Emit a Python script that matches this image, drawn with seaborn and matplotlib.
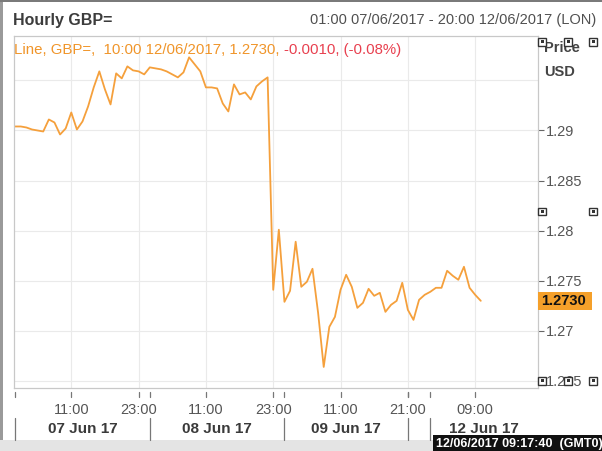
import numpy as np
import pandas as pd
import matplotlib
matplotlib.use("Agg")
import matplotlib.pyplot as plt
from matplotlib.patches import Rectangle
import seaborn as sns

# ---- data (hourly GBP= close, one value per bar, 01:00 07/06/2017 -> 10:00 12/06/2017)
gbp = [1.2904, 1.2904, 1.2903, 1.2901, 1.2900, 1.2899, 1.2911, 1.2908, 1.2896, 1.2902,
       1.2918, 1.2901, 1.2909, 1.2924, 1.2943, 1.2959, 1.2941, 1.2926, 1.2957, 1.2952,
       1.2964, 1.2960, 1.2959, 1.2956, 1.2963, 1.2962, 1.2961, 1.2959, 1.2956, 1.2953,
       1.2958, 1.2973, 1.2966, 1.2959, 1.2943, 1.2943, 1.2942, 1.2927, 1.2919, 1.2946,
       1.2936, 1.2938, 1.2931, 1.2944, 1.2949, 1.2953, 1.2741, 1.2801, 1.2729, 1.2740,
       1.2789, 1.2744, 1.2749, 1.2762, 1.2718, 1.2664, 1.2704, 1.2714, 1.2741, 1.2756,
       1.2744, 1.2723, 1.2728, 1.2742, 1.2735, 1.2738, 1.2719, 1.2726, 1.2730, 1.2748,
       1.2721, 1.2711, 1.2731, 1.2736, 1.2739, 1.2743, 1.2743, 1.2760, 1.2755, 1.2751,
       1.2764, 1.2743, 1.2736, 1.2730]
bar_index = list(range(len(gbp)))

time_tick_bars = [10, 22, 34, 46, 58, 70, 82]
time_tick_labels = ["11:00", "23:00", "11:00", "23:00", "11:00", "21:00", "09:00"]
day_start_bars = [0, 24, 48, 70, 74]
day_labels = ["07 Jun 17", "08 Jun 17", "09 Jun 17", "", "12 Jun 17"]
price_ticks = [1.265, 1.27, 1.275, 1.28, 1.285, 1.29]
price_tick_labels = ["1.265", "1.27", "1.275", "1.28", "1.285", "1.29"]
grid_levels = [1.265, 1.27, 1.275, 1.28, 1.285, 1.29, 1.295]
last_price = 1.2730
header_left = "Hourly GBP="
header_right = "01:00 07/06/2017 - 20:00 12/06/2017 (LON)"
info_orange = "Line, GBP=,  10:00 12/06/2017, 1.2730, "
info_red = "-0.0010, (-0.08%)"
stamp = "12/06/2017 09:17:40  (GMT0)"

# ---- style
sns.set_style("white")
FONT = ["Liberation Sans", "DejaVu Sans"]
plt.rcParams["font.family"] = FONT

LINE = "#F5A03C"
W, H = 602, 451
fig = plt.figure(figsize=(W / 100, H / 100), dpi=100)
fig.patch.set_facecolor("white")

def fx(px):
    return px / W

def fy(py):
    return 1 - py / H

L, R, T, B = 13.5, 538, 36, 388
ax = fig.add_axes([fx(L), fy(B), fx(R) - fx(L), fy(T) - fy(B)])
df = pd.DataFrame({"bar": bar_index, "price": gbp})
sns.lineplot(data=df, x="bar", y="price", ax=ax, color=LINE, linewidth=1.3)
ax.set_xlim(-0.3, 93.2)
ax.set_ylim(1.2643, 1.29943)
ax.set_xlabel("")
ax.set_ylabel("")

# grid
for v in grid_levels:
    ax.axhline(v, color="#EAEAEA", lw=0.8, zorder=0)
for b in time_tick_bars:
    ax.axvline(b, color="#EAEAEA", lw=0.8, zorder=0)

for s in ax.spines.values():
    s.set_color("#C8C8C8")
    s.set_linewidth(0.9)

# y axis on right
ax.yaxis.tick_right()
ax.set_yticks(price_ticks)
ax.set_yticklabels(price_tick_labels)
ax.tick_params(axis="y", direction="out", length=4, width=0.8, color="#666666",
               pad=1.5, labelsize=10.5, labelcolor="#555555")

# x axis
ax.set_xticks(time_tick_bars)
ax.set_xticklabels(time_tick_labels)
ax.tick_params(axis="x", length=0, pad=11, labelsize=10.5, labelcolor="#555555")
xt = ax.get_xaxis_transform()
ah = B - T
for b in time_tick_bars + day_start_bars:
    ax.plot([b, b], [-4 / ah, -9 / ah], transform=xt, color="#777777", lw=0.9, clip_on=False)
for b in day_start_bars:
    ax.plot([b, b], [-30 / ah, -52 / ah], transform=xt, color="#777777", lw=0.9, clip_on=False)
xmax = ax.get_xlim()[1]
ends = day_start_bars[1:] + [xmax]
for s, e, lab in zip(day_start_bars, ends, day_labels):
    if lab:
        ax.text((s + e) / 2, -41 / ah, lab, transform=xt, ha="center", va="center",
                fontsize=11, fontweight="bold", color="#3A3A3A")

# last price tag
yt = ax.get_yaxis_transform()
aw = R - L
ax.add_patch(Rectangle((1.0, last_price - 0.0009), 54 / aw, 0.0018, transform=yt,
                       facecolor="#F5A02A", edgecolor="none", clip_on=False, zorder=5))
ax.text(1.0 + 3 / aw, last_price, f"{last_price:.4f}", transform=yt, ha="left", va="center",
        fontsize=10.5, fontweight="bold", color="#111111", zorder=6, clip_on=False)

# headers
fig.text(fx(13), fy(20), header_left, ha="left", va="center", fontsize=11.5,
         fontweight="bold", color="#3C3C3C")
fig.text(fx(596), fy(20), header_right, ha="right", va="center", fontsize=10.5, color="#505050")
t1 = fig.text(fx(14), fy(50), info_orange, ha="left", va="center", fontsize=10.8, color="#F0952A")
fig.canvas.draw()
bb = t1.get_window_extent()
fig.text(bb.x1 / W, fy(50), info_red, ha="left", va="center", fontsize=10.8, color="#E8404F")

fig.text(fx(544), fy(48), "Price", ha="left", va="center", fontsize=10.5,
         fontweight="bold", color="#444444")
fig.text(fx(544), fy(72), "USD", ha="left", va="center", fontsize=10.5,
         fontweight="bold", color="#444444")

# handle squares
for cx, cy in [(542, 41.5), (568, 41.5), (593, 41.5), (542, 211.5), (593, 211.5),
               (542, 380.5), (568, 380.5), (593, 380.5)]:
    fig.patches.append(Rectangle((fx(cx - 4), fy(cy + 4)), 8 / W, 8 / H, transform=fig.transFigure,
                                 facecolor="white", edgecolor="#333333", lw=1.0, zorder=10))
    fig.patches.append(Rectangle((fx(cx - 1.5), fy(cy + 1.5)), 3 / W, 3 / H, transform=fig.transFigure,
                                 facecolor="#333333", edgecolor="none", zorder=11))

# window frame
fig.patches.append(Rectangle((0, fy(451)), 1, 11 / H, transform=fig.transFigure,
                             facecolor="#E4E4E4", edgecolor="none", zorder=-1))
fig.patches.append(Rectangle((0, fy(2)), 1, 2 / H, transform=fig.transFigure,
                             facecolor="#7A7A7A", edgecolor="none", zorder=12))
fig.patches.append(Rectangle((0, fy(440)), 3 / W, 438 / H, transform=fig.transFigure,
                             facecolor="#9A9A9A", edgecolor="none", zorder=12))
fig.patches.append(Rectangle((fx(433), 0), 169 / W, 16 / H, transform=fig.transFigure,
                             facecolor="#111111", edgecolor="none", zorder=20))
fig.text(fx(436), fy(443.5), stamp, ha="left", va="center", fontsize=9,
         fontweight="bold", color="white", zorder=21)

fig.savefig("out.png", dpi=100)
